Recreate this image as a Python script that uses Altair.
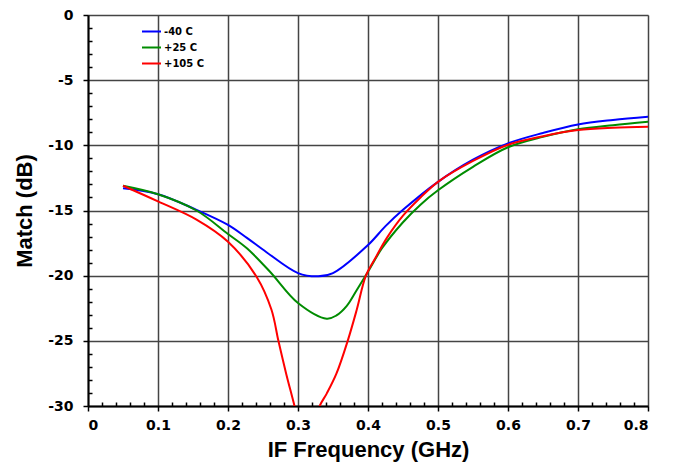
import altair as alt
import pandas as pd

# ---- data ----
series_labels = ["-40 C", "+25 C", "+105 C"]
series_colors = ["#0000FF", "#008C00", "#FF0000"]

freq_m40 = [0.05, 0.1, 0.155, 0.2, 0.227, 0.255, 0.3, 0.329, 0.35, 0.4, 0.425, 0.45, 0.5, 0.55, 0.6, 0.65, 0.7, 0.75, 0.8]
match_m40 = [-13.3, -13.75, -14.95, -16.1, -17.1, -18.2, -19.8, -20.05, -19.8, -17.65, -16.2, -14.95, -12.8, -11.1, -9.85, -9.05, -8.4, -8.05, -7.8]

freq_p25 = [0.05, 0.1, 0.155, 0.2, 0.227, 0.26, 0.3, 0.341, 0.355, 0.37, 0.384, 0.4, 0.42, 0.45, 0.475, 0.5, 0.55, 0.6, 0.65, 0.7, 0.75, 0.8]
match_p25 = [-13.1, -13.75, -15.0, -16.8, -17.9, -19.7, -22.1, -23.3, -23.05, -22.3, -21.1, -19.7, -17.9, -15.9, -14.55, -13.45, -11.65, -10.15, -9.35, -8.77, -8.45, -8.19]

freq_p105 = [0.05, 0.1, 0.155, 0.2, 0.241, 0.262, 0.272, 0.283, 0.295, 0.305, 0.313, 0.322, 0.331, 0.341, 0.355, 0.371, 0.384, 0.397, 0.411, 0.427, 0.45, 0.475, 0.5, 0.55, 0.6, 0.65, 0.7, 0.75, 0.8]
match_p105 = [-13.1, -14.3, -15.7, -17.4, -20.1, -22.6, -25.0, -27.5, -30.0, -32.3, -33.0, -31.8, -30.0, -29.05, -27.5, -25.0, -22.6, -20.0, -18.6, -17.1, -15.4, -14.0, -12.8, -11.2, -9.95, -9.3, -8.83, -8.65, -8.57]

x_major = [0, 0.1, 0.2, 0.3, 0.4, 0.5, 0.6, 0.7, 0.8]
y_major = [0, -5, -10, -15, -20, -25, -30]
x_minor = [0.02, 0.04, 0.06, 0.08, 0.12, 0.14, 0.16, 0.18, 0.22, 0.24, 0.26, 0.28,
           0.32, 0.34, 0.36, 0.38, 0.42, 0.44, 0.46, 0.48, 0.52, 0.54, 0.56, 0.58,
           0.62, 0.64, 0.66, 0.68, 0.72, 0.74, 0.76, 0.78]
y_minor = [-1, -2, -3, -4, -6, -7, -8, -9, -11, -12, -13, -14, -16, -17, -18, -19,
           -21, -22, -23, -24, -26, -27, -28, -29]

x_title = "IF Frequency (GHz)"
y_title = "Match (dB)"

# ---- table ----
rows = []
for lab, fs, ms in [(series_labels[0], freq_m40, match_m40),
                    (series_labels[1], freq_p25, match_p25),
                    (series_labels[2], freq_p105, match_p105)]:
    for i, (f, m) in enumerate(zip(fs, ms)):
        rows.append({"freq": f, "match": m, "series": lab, "idx": i})
df = pd.DataFrame(rows)

TICK_FONT = "DejaVu Sans"
TITLE_FONT = "Liberation Sans"

xscale = alt.Scale(domain=[0, 0.8], nice=False, zero=False)
yscale = alt.Scale(domain=[-30, 0], nice=False, zero=False)

lines = alt.Chart(df).mark_line(clip=True, interpolate="catmull-rom", strokeWidth=2).encode(
    x=alt.X("freq:Q", scale=xscale, axis=alt.Axis(
        values=x_major, orient="bottom", title=x_title, grid=True,
        gridColor="#444444", gridWidth=1.5, domainColor="#000000", domainWidth=2,
        tickColor="#000000", tickWidth=1.5, tickSize=5,
        labelFont=TICK_FONT, labelFontSize=14, labelFontWeight="bold", labelColor="#000000",
        labelPadding=7, labelExpr="datum.value + ''",
        titleFont=TITLE_FONT, titleFontSize=22, titleFontWeight="bold", titleColor="#000000",
        titlePadding=7)),
    y=alt.Y("match:Q", scale=yscale, axis=alt.Axis(
        values=y_major, orient="left", title=y_title, grid=True,
        gridColor="#444444", gridWidth=1.5, domainColor="#000000", domainWidth=2,
        tickColor="#000000", tickWidth=1.5, tickSize=5,
        labelFont=TICK_FONT, labelFontSize=14, labelFontWeight="bold", labelColor="#000000",
        labelPadding=10, labelExpr="datum.value + ''",
        titleFont=TITLE_FONT, titleFontSize=22, titleFontWeight="bold", titleColor="#000000",
        titlePadding=11)),
    color=alt.Color("series:N", scale=alt.Scale(domain=series_labels, range=series_colors),
                    legend=alt.Legend(orient="none", legendX=53, legendY=6, title=None,
                                      symbolType="stroke", symbolSize=361, symbolStrokeWidth=2,
                                      labelFont=TICK_FONT, labelFontSize=10, labelFontWeight="bold",
                                      labelColor="#000000", labelOffset=2, rowPadding=-1,
                                      padding=0)),
    order="idx:Q",
)

minor = alt.Chart(df).mark_point(opacity=0).encode(
    x=alt.X("freq:Q", scale=xscale, axis=alt.Axis(
        values=x_minor, orient="bottom", title=None, labels=False, grid=False, domain=False,
        tickColor="#000000", tickWidth=1.5, tickSize=4, offset=-4)),
    y=alt.Y("match:Q", scale=yscale, axis=alt.Axis(
        values=y_minor, orient="left", title=None, labels=False, grid=False, domain=False,
        tickColor="#000000", tickWidth=1.5, tickSize=4, offset=-4)),
)

chart = alt.layer(lines, minor).resolve_axis(x="independent", y="independent").properties(
    width=560, height=391,
    autosize=alt.AutoSizeParams(type="none"),
    padding={"left": 80, "top": 7, "right": 22, "bottom": 56},
).configure_view(stroke="#000000", strokeWidth=1.5).configure(background="white")

chart.save("out.html", embed_options={"renderer": "svg", "actions": False})
